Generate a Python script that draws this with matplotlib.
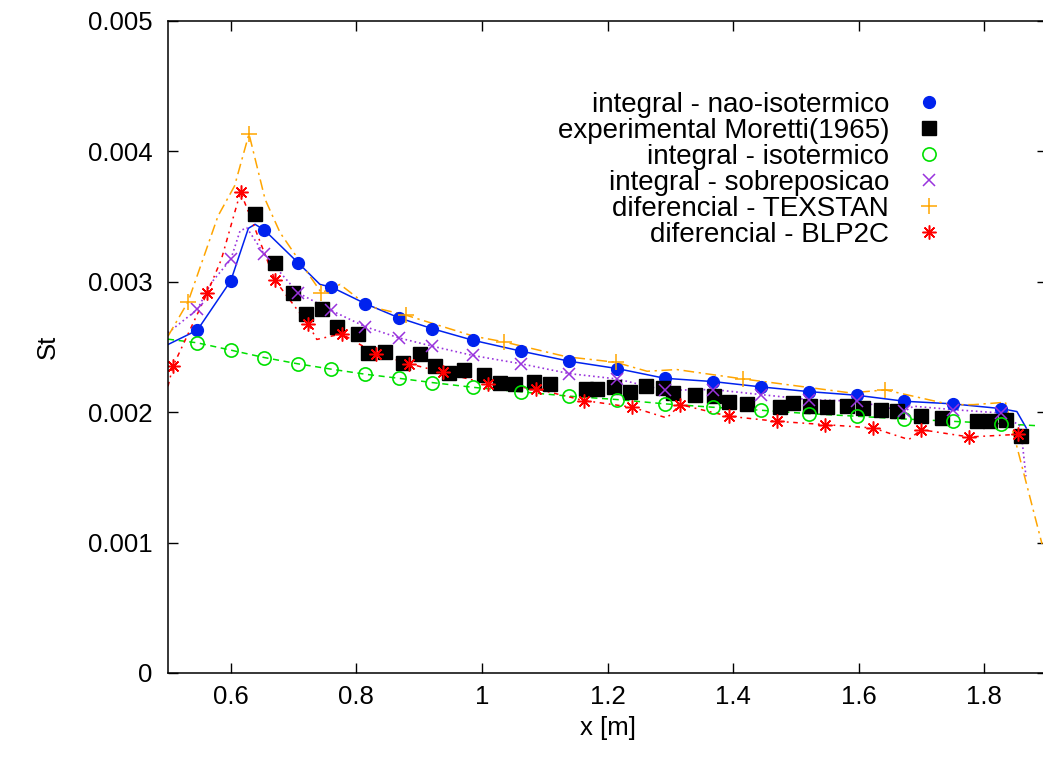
import matplotlib
matplotlib.use('Agg')
import matplotlib.pyplot as plt
from matplotlib.ticker import FormatStrFormatter

plt.rcParams['font.family'] = ['Liberation Sans', 'DejaVu Sans']
plt.rcParams['font.size'] = 18.5

# integral - nao-isotermico (line vertices, then marker points)
nao_line_x = [0.5, 0.5467, 0.600, 0.628, 0.6386, 0.6535, 0.707, 0.742, 0.760, 0.8145, 0.8677,
              0.9212, 0.9855, 1.0626, 1.139, 1.215, 1.2913, 1.368, 1.4445, 1.5204, 1.597,
              1.673, 1.750, 1.826, 1.852, 1.867]
nao_line_y = [2.519, 2.629, 3.008, 3.41, 3.441, 3.397, 3.147, 2.98, 2.960, 2.832, 2.724,
              2.640, 2.552, 2.468, 2.391, 2.335, 2.260, 2.235, 2.194, 2.158, 2.130,
              2.084, 2.064, 2.028, 2.005, 1.879]
nao_pts_x = [0.5467, 0.600, 0.6535, 0.707, 0.760, 0.8145, 0.8677, 0.9212, 0.9855, 1.0626,
             1.139, 1.215, 1.2913, 1.368, 1.4445, 1.5204, 1.597, 1.673, 1.750, 1.826]
nao_pts_y = [2.629, 3.008, 3.397, 3.147, 2.960, 2.832, 2.724, 2.640, 2.552, 2.468,
             2.391, 2.335, 2.260, 2.235, 2.194, 2.158, 2.130, 2.084, 2.064, 2.028]

# experimental Moretti(1965)
exp_x = [0.638, 0.671, 0.699, 0.719, 0.745, 0.769, 0.802, 0.819, 0.846, 0.875, 0.902,
         0.926, 0.947, 0.972, 1.003, 1.029, 1.053, 1.083, 1.109, 1.165, 1.183, 1.211,
         1.236, 1.261, 1.288, 1.304, 1.340, 1.369, 1.393, 1.422, 1.474, 1.496, 1.523,
         1.549, 1.581, 1.607, 1.635, 1.661, 1.699, 1.733, 1.789, 1.810, 1.834, 1.858]
exp_y = [3.518, 3.147, 2.916, 2.755, 2.793, 2.655, 2.596, 2.455, 2.463, 2.378, 2.448,
         2.358, 2.302, 2.322, 2.289, 2.225, 2.217, 2.233, 2.217, 2.179, 2.179, 2.194,
         2.153, 2.204, 2.187, 2.148, 2.130, 2.127, 2.079, 2.066, 2.040, 2.071, 2.051,
         2.038, 2.051, 2.033, 2.020, 2.007, 1.974, 1.956, 1.935, 1.930, 1.938, 1.815]

# integral - isotermico
iso_line_x = [0.5, 0.5467, 0.600, 0.6535, 0.707, 0.760, 0.8145, 0.8677, 0.9212, 0.9855,
              1.0626, 1.139, 1.215, 1.2913, 1.368, 1.4445, 1.5204, 1.597, 1.673, 1.750,
              1.826, 1.882]
iso_line_y = [2.56, 2.532, 2.476, 2.419, 2.371, 2.330, 2.291, 2.260, 2.227, 2.191,
              2.156, 2.123, 2.097, 2.064, 2.038, 2.015, 1.989, 1.969, 1.948, 1.930,
              1.912, 1.897]
iso_pts_x = iso_line_x[1:-1]
iso_pts_y = iso_line_y[1:-1]

# integral - sobreposicao
sob_line_x = [0.5, 0.5467, 0.569, 0.600, 0.6147, 0.6254, 0.6535, 0.707, 0.760, 0.8145,
              0.8677, 0.9212, 0.9855, 1.0626, 1.139, 1.215, 1.2913, 1.368, 1.4445, 1.5204,
              1.597, 1.673, 1.6874, 1.750, 1.826, 1.8578, 1.8665]
sob_line_y = [2.609, 2.788, 2.993, 3.172, 3.39, 3.415, 3.210, 2.916, 2.780, 2.655,
              2.570, 2.506, 2.435, 2.371, 2.296, 2.255, 2.168, 2.174, 2.135, 2.097,
              2.084, 2.007, 2.046, 2.020, 1.994, 1.892, 1.508]
sob_pts_x = [0.5467, 0.600, 0.6535, 0.707, 0.760, 0.8145, 0.8677, 0.9212, 0.9855, 1.0626,
             1.139, 1.215, 1.2913, 1.368, 1.4445, 1.5204, 1.597, 1.673, 1.750, 1.826]
sob_pts_y = [2.788, 3.172, 3.210, 2.916, 2.780, 2.655, 2.570, 2.506, 2.435, 2.371,
             2.296, 2.255, 2.168, 2.174, 2.135, 2.097, 2.084, 2.007, 2.020, 1.994]

# diferencial - TEXSTAN
tex_line_x = [0.5, 0.532, 0.5797, 0.606, 0.629, 0.6546, 0.6785, 0.7077, 0.737, 0.7444,
              0.774, 0.8187, 0.8785, 0.9866, 1.0344, 1.135, 1.213, 1.263, 1.3104, 1.4158,
              1.4646, 1.5869, 1.6427, 1.746, 1.783, 1.8338, 1.892]
tex_line_y = [2.583, 2.847, 3.505, 3.735, 4.134, 3.633, 3.377, 3.172, 2.967, 2.916,
              2.98, 2.813, 2.745, 2.583, 2.540, 2.425, 2.383, 2.314, 2.327, 2.255,
              2.225, 2.148, 2.171, 2.058, 2.058, 2.076, 0.99]
tex_pts_x = [0.532, 0.629, 0.7444, 0.8785, 1.0344, 1.213, 1.4158, 1.6427]
tex_pts_y = [2.847, 4.134, 2.916, 2.745, 2.540, 2.383, 2.255, 2.171]

# diferencial - BLP2C
blp_line_x = [0.5, 0.508, 0.5626, 0.585, 0.6155, 0.6328, 0.6705, 0.7236, 0.737, 0.7765,
              0.8315, 0.8846, 0.9375, 1.0089, 1.0865, 1.163, 1.2394, 1.2945, 1.316, 1.393,
              1.470, 1.546, 1.623, 1.6799, 1.6995, 1.776, 1.8535]
blp_line_y = [2.199, 2.353, 2.916, 3.172, 3.689, 3.479, 3.011, 2.673, 2.558, 2.601,
              2.448, 2.371, 2.306, 2.217, 2.179, 2.089, 2.038, 1.956, 2.058, 1.969,
              1.930, 1.905, 1.879, 1.790, 1.866, 1.810, 1.830]
blp_pts_x = [0.508, 0.5626, 0.6155, 0.6705, 0.7236, 0.7765, 0.8315, 0.8846, 0.9375, 1.0089,
             1.0865, 1.163, 1.2394, 1.316, 1.393, 1.470, 1.546, 1.623, 1.6995, 1.776, 1.8535]
blp_pts_y = [2.353, 2.916, 3.689, 3.011, 2.673, 2.601, 2.448, 2.371, 2.306, 2.217,
             2.179, 2.089, 2.038, 2.058, 1.969, 1.930, 1.905, 1.879, 1.866, 1.810, 1.830]


def sc(v):
    return [a * 1e-3 for a in v]


fig = plt.figure(figsize=(10.43, 7.6), dpi=100)
ax = fig.add_axes([168 / 1043, 87 / 760, (1047 - 168) / 1043, (673 - 21) / 760])

blue = '#0022ee'
green = '#00e000'
purple = '#9933dd'
orange = '#ffa500'
red = '#ff0000'

ax.plot(nao_line_x, sc(nao_line_y), color=blue, lw=1.1)
ax.plot(iso_line_x, sc(iso_line_y), color=green, lw=1.1, ls=(0, (4, 3)))
ax.plot(sob_line_x, sc(sob_line_y), color=purple, lw=1.2, ls=(0, (1, 1.8)))
ax.plot(tex_line_x, sc(tex_line_y), color=orange, lw=1.1, ls=(0, (7, 3, 1.5, 3)))
ax.plot(blp_line_x, sc(blp_line_y), color=red, lw=1.1, ls=(0, (3, 3, 1.2, 3)))

ax.plot(nao_pts_x, sc(nao_pts_y), 'o', color=blue, ms=8.5, ls='none',
        label='integral - nao-isotermico')
ax.plot(exp_x, sc(exp_y), 's', color='black', ms=10.5, ls='none',
        label='experimental Moretti(1965)')
ax.plot(iso_pts_x, sc(iso_pts_y), 'o', mfc='none', mec=green, mew=1.2, ms=9.5, ls='none',
        label='integral - isotermico')
ax.plot(sob_pts_x, sc(sob_pts_y), 'x', color=purple, mew=1.1, ms=9, ls='none',
        label='integral - sobreposicao')
ax.plot(tex_pts_x, sc(tex_pts_y), '+', color=orange, mew=1.1, ms=11, ls='none',
        label='diferencial - TEXSTAN')
ax.plot(blp_pts_x, sc(blp_pts_y), marker=(8, 2, 0), color=red, mew=1.1, ms=10, ls='none',
        label='diferencial - BLP2C')

ax.set_xlim(0.5, 1.9)
ax.set_ylim(0, 0.005)
ax.set_xticks([0.6, 0.8, 1.0, 1.2, 1.4, 1.6, 1.8])
ax.set_yticks([0, 0.001, 0.002, 0.003, 0.004, 0.005])
ax.xaxis.set_major_formatter(FormatStrFormatter('%g'))
ax.yaxis.set_major_formatter(FormatStrFormatter('%g'))
ax.tick_params(direction='in', length=7, width=1, top=True, right=True)
ax.tick_params(axis='x', pad=9)
ax.tick_params(axis='y', pad=11)
for s in ax.spines.values():
    s.set_linewidth(1.1)

ax.set_xlabel('x [m]', labelpad=5)
ax.set_ylabel('St', labelpad=20)

ax.legend(loc='upper right', bbox_to_anchor=(960 / 1043, 1 - 78 / 760),
          bbox_transform=fig.transFigure, frameon=False, markerfirst=False,
          handlelength=1.2, handletextpad=0.85, labelspacing=0.0, borderpad=0,
          prop={'size': 20})

fig.savefig('out.png', dpi=100)
